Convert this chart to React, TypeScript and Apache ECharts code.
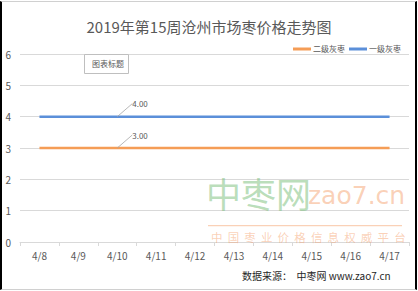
import React, { useEffect, useRef } from "react";
import * as echarts from "echarts";

const categories = ["4/8", "4/9", "4/10", "4/11", "4/12", "4/13", "4/14", "4/15", "4/16", "4/17"];
const grade2Values = [3, 3, 3, 3, 3, 3, 3, 3, 3, 3];
const grade1Values = [4, 4, 4, 4, 4, 4, 4, 4, 4, 4];
const labelIndex = 2;
const yTicks = { min: 0, max: 6, interval: 1 };

const FONT = "'Noto Sans CJK SC', 'Noto Sans', sans-serif";

function withLabel(values: number[]) {
  return values.map((v, i) =>
    i === labelIndex
      ? { value: v, label: { show: true }, labelLine: { show: true } }
      : v
  );
}

export default function App() {
  const ref = useRef<HTMLDivElement>(null);
  useEffect(() => {
    document.body.style.margin = "0";
    const chart = echarts.init(ref.current!, null, { renderer: "svg" });
    const seriesCommon = {
      type: "line",
      symbol: "circle",
      symbolSize: 0,
      showSymbol: true,
      lineStyle: { width: 2.5 },
      label: {
        show: false,
        position: "right",
        formatter: (p: any) => Number(p.value).toFixed(2),
        color: "#595959",
        fontSize: 8,
        fontFamily: FONT,
      },
      labelLayout: { dx: 10, dy: -13 },
      labelLine: { show: false, lineStyle: { color: "#a6a6a6", width: 0.8 } },
    };
    const wmOrange = "rgba(245,158,105,0.48)";
    chart.setOption({
      animation: false,
      title: {
        text: "2019年第15周沧州市场枣价格走势图",
        left: "center",
        top: 14,
        textStyle: { fontSize: 15, fontWeight: "normal", color: "#595959", fontFamily: FONT },
      },
      legend: {
        right: 12,
        top: 40,
        itemWidth: 18,
        itemHeight: 3,
        itemGap: 4,
        icon: "rect",
        textStyle: { fontSize: 8, color: "#595959", fontFamily: FONT, padding: [0, 0, 0, -3] },
        data: ["二级灰枣", "一级灰枣"],
      },
      grid: { left: 20, right: 9, top: 54, bottom: 49 },
      xAxis: {
        type: "category",
        data: categories,
        boundaryGap: true,
        axisLine: { lineStyle: { color: "#d9d9d9" } },
        axisTick: { show: true, length: 4, lineStyle: { color: "#d9d9d9" } },
        axisLabel: { color: "#595959", fontSize: 10, margin: 8, fontFamily: FONT },
      },
      yAxis: {
        type: "value",
        min: yTicks.min,
        max: yTicks.max,
        interval: yTicks.interval,
        axisLine: { show: false },
        axisTick: { show: false },
        splitLine: { lineStyle: { color: "#d9d9d9" } },
        axisLabel: { color: "#595959", fontSize: 10, margin: 9, fontFamily: FONT },
      },
      series: [
        { ...seriesCommon, name: "二级灰枣", data: withLabel(grade2Values), color: "#f59d56", z: 3 },
        { ...seriesCommon, name: "一级灰枣", data: withLabel(grade1Values), color: "#5b8fd9", z: 3 },
      ],
      graphic: [
        {
          type: "rect",
          left: 84,
          top: 54,
          shape: { width: 44, height: 19 },
          style: { fill: "#fff", stroke: "#bfbfbf", lineWidth: 1 },
          z: 10,
        },
        {
          type: "text",
          left: 92,
          top: 59,
          style: { text: "图表标题", fill: "#595959", font: `8px ${FONT}` },
          z: 11,
        },
        {
          type: "text",
          left: 206,
          top: 175,
          style: { text: "中枣网", fill: "rgba(120,190,120,0.52)", font: `35px ${FONT}` },
          z: 1,
        },
        {
          type: "text",
          left: 308,
          top: 183,
          style: { text: "zao7.cn", fill: wmOrange, font: `25px 'DejaVu Sans', sans-serif` },
          z: 1,
        },
        {
          type: "rect",
          left: 208,
          top: 225,
          shape: { width: 194, height: 1.2 },
          style: { fill: wmOrange },
          z: 1,
        },
        {
          type: "text",
          left: 211,
          top: 231,
          style: {
            text: "中  国  枣  业  价  格  信  息  权  威  平  台",
            fill: wmOrange,
            font: `11.5px ${FONT}`,
          },
          z: 1,
        },
        {
          type: "text",
          left: 242,
          top: 270,
          style: { text: "数据来源：  中枣网 www.zao7.cn", fill: "#262626", font: `10px ${FONT}` },
          z: 11,
        },
      ],
    });
    return () => chart.dispose();
  }, []);
  return (
    <div style={{ position: "relative", width: 418, height: 291 }}>
      <div ref={ref} style={{ width: 418, height: 291 }} />
      <div
        style={{
          position: "absolute",
          left: 0,
          top: 1,
          width: 417,
          height: 289,
          boxSizing: "border-box",
          borderLeft: "2px solid #000",
          borderRight: "2px solid #000",
          borderTop: "1px solid #d0d0d0",
          borderBottom: "1px solid #d0d0d0",
          pointerEvents: "none",
        }}
      />
    </div>
  );
}
